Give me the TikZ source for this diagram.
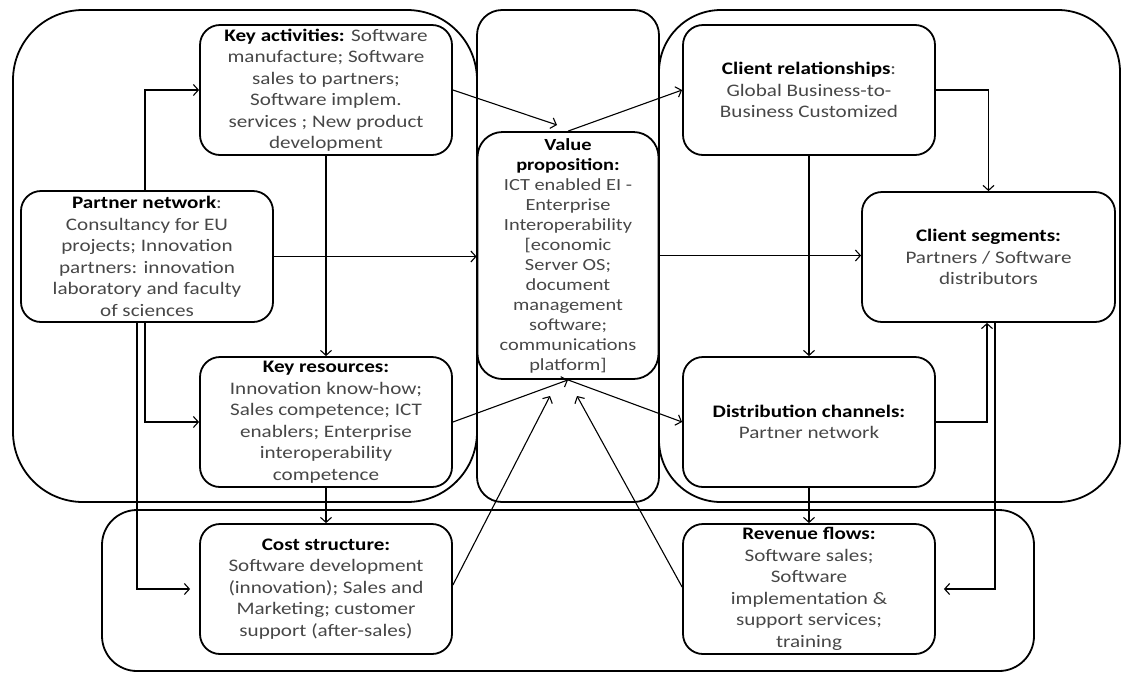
\documentclass[tikz,border=0pt]{standalone}
\usepackage{fontspec}
\setmainfont[FakeStretch=1.2]{Carlito}
\usetikzlibrary{arrows.meta}
\newcommand\hd[1]{\textbf{\color{black}#1}}
\begin{document}
\begin{tikzpicture}[x=1pt,y=-1pt,
  grp/.style={draw, line width=1.8pt},
  box/.style={draw, line width=1.8pt, rounded corners=20pt, align=center, inner sep=0pt,
    text=black!72, minimum width=252pt, minimum height=130pt,
    font=\fontsize{17.6}{21.5}\selectfont},
  arr/.style={-{Straight Barb[length=5pt,width=11pt]}, line width=1.1pt}]
\useasboundingbox (0,0) rectangle (1121,673);
% group outlines
\draw[grp, rounded corners=70pt] (13,10) rectangle (477,502);
\draw[grp, rounded corners=25pt] (477,10) rectangle (659,502);
\draw[grp, rounded corners=62pt] (659,10) rectangle (1120,502);
\draw[grp, rounded corners=35pt] (102,510) rectangle (1034,671);
% nodes
\node[box] (ka) at (326,90) {\hd{Key activities:} Software\\ manufacture; Software\\ sales to partners;\\ Software implem.\\ services ; New product\\ development};
\node[box] (kr) at (326,422) {\hd{Key resources:}\\ Innovation know-how;\\ Sales competence; ICT\\ enablers; Enterprise\\ interoperability\\ competence};
\node[box] (cs) at (326,589) {\hd{Cost structure:}\\ Software development\\ (innovation); Sales and\\ Marketing; customer\\ support (after-sales)};
\node[box, minimum height=131pt] (pn) at (147,256.5) {\hd{Partner network}:\\ Consultancy for EU\\ projects; Innovation\\ partners: innovation\\ laboratory and faculty\\ of sciences};
\node[box, minimum width=181pt, minimum height=247pt, rounded corners=25pt, font=\fontsize{17}{20}\selectfont] (vp) at (568,255.5) {\hd{Value}\\ \hd{proposition:}\\ ICT enabled EI -\\ Enterprise\\ Interoperability\\ {[}economic\\ Server OS;\\ document\\ management\\ software;\\ communications\\ platform{]}};
\node[box] (cr) at (809,90) {\hd{Client relationships}:\\ Global Business-to-\\ Business Customized};
\node[box] (dc) at (809,422) {\hd{Distribution channels:}\\ Partner network};
\node[box] (rf) at (809,589) {\hd{Revenue flows:}\\ Software sales;\\ Software\\ implementation \&\\ support services;\\ training};
\node[box, minimum width=253pt] (seg) at (988.5,257) {\hd{Client segments:}\\ Partners / Software\\ distributors};
% free ends
\coordinate (vpin) at (557,125);
\coordinate (vpc) at (550,396);
\coordinate (vpr) at (577,396);
% connectors
\draw[arr] ([xshift=-2pt]pn.north) |- (ka.west);
\draw[arr] (pn.east) -- (pn.east -| vp.west);
\draw[arr] ([xshift=-2pt]pn.south) |- (kr.west);
\draw[arr, shorten >=9pt] ([xshift=-10pt]pn.south) |- (cs.west);
\draw[arr] (ka.south) -- (kr.north);
\draw[arr] (kr.south) -- (cs.north);
\draw[arr] (ka.east) -- (vpin);
\draw[arr] (vp.north) -- (cr.west);
\draw[arr] (vp.east) -- (vp.east -| seg.west);
\draw[arr] (cr.east) -| (seg.north);
\draw[arr] (cr.south) -- (dc.north);
\draw[arr] (dc.south) -- (rf.north);
\draw[arr] (kr.east) -- (vp.south);
\draw[arr] (vp.south) -- (dc.west);
\draw[arr] ([yshift=4pt]cs.east) -- (vpc);
\draw[arr] ([yshift=2pt]rf.west) -- (vpr);
\draw[arr] (dc.east) -| ([xshift=-1.5pt]seg.south);
\draw[arr, shorten >=8pt] ([xshift=6.5pt]seg.south) |- (rf.east);
\end{tikzpicture}
\end{document}
